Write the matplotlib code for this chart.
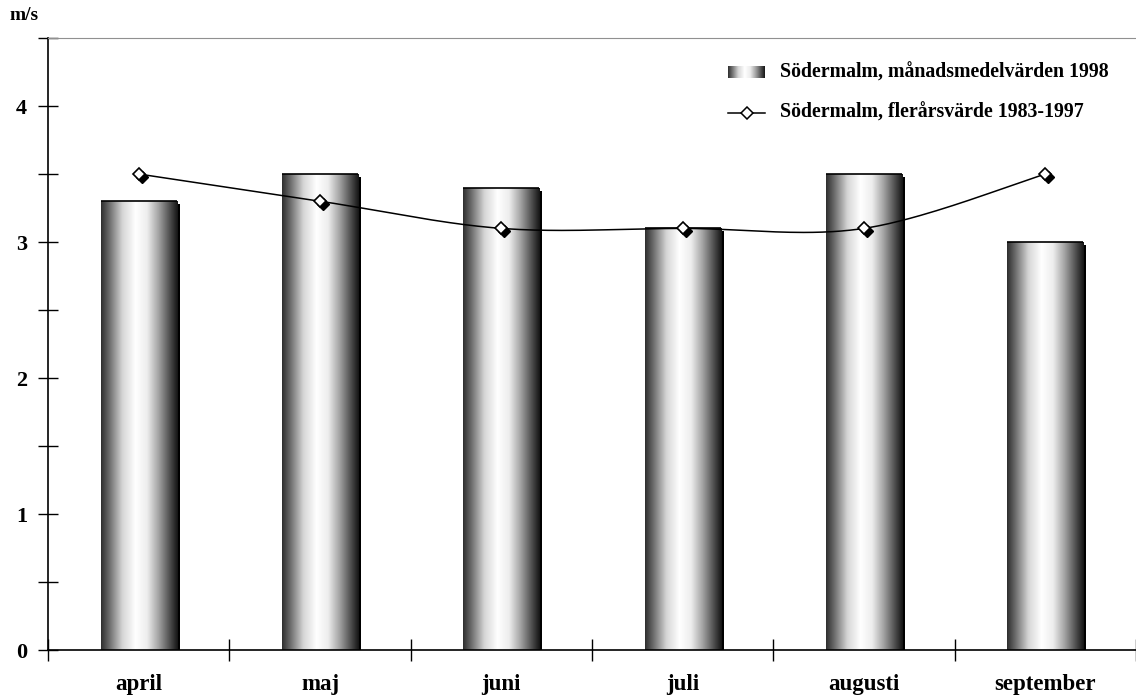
import numpy as np
import matplotlib
matplotlib.use("Agg")
import matplotlib.pyplot as plt
from matplotlib.colors import LinearSegmentedColormap
from matplotlib.transforms import ScaledTranslation
from matplotlib.ticker import MultipleLocator

# Monthly wind speed data (m/s)
months = ["april", "maj", "juni", "juli", "augusti", "september"]
monthly_1998 = [3.3, 3.5, 3.4, 3.1, 3.5, 3.0]
longterm_1983_1997 = [3.5, 3.3, 3.1, 3.1, 3.1, 3.5]
label_bars = "Södermalm, månadsmedelvärden 1998"
label_line = "Södermalm, flerårsvärde 1983-1997"
yticks = [0, 1, 2, 3, 4]

plt.rcParams["font.family"] = ["Liberation Serif", "DejaVu Serif"]
plt.rcParams["font.weight"] = "bold"

W, H, DPI = 1136, 696, 100
fig = plt.figure(figsize=(W / DPI, H / DPI), dpi=DPI)
left, right, bottom, top = 48, 1136, 650, 38
ax = fig.add_axes([left / W, (H - bottom) / H, (right - left) / W, (bottom - top) / H])

# metallic horizontal gradient used on the bars
shade = LinearSegmentedColormap.from_list(
    "metal",
    [(0.0, (0.18, 0.18, 0.18)), (0.12, (0.45, 0.45, 0.45)), (0.28, (0.84, 0.84, 0.84)),
     (0.45, (1.0, 1.0, 1.0)), (0.6, (0.93, 0.93, 0.93)), (0.75, (0.64, 0.64, 0.64)),
     (0.9, (0.3, 0.3, 0.3)), (1.0, (0.08, 0.08, 0.08))])
grad = np.linspace(0, 1, 256).reshape(1, -1)

x = np.arange(len(months))
bw = 0.42
off = ScaledTranslation(3 / DPI, -3 / DPI, fig.dpi_scale_trans)

shadow = ax.bar(x, monthly_1998, bw, color="black", zorder=1)
for p in shadow:
    p.set_transform(ax.transData + off)

bars = ax.bar(x, monthly_1998, bw, facecolor="none", edgecolor="none", zorder=3)
for p in bars:
    x0, w_ = p.get_x(), p.get_width()
    im = ax.imshow(grad, cmap=shade, vmin=0, vmax=1, aspect="auto",
                   extent=(x0, x0 + w_, 0, p.get_height()), zorder=2,
                   interpolation="bilinear")
    im.set_clip_path(p)
    ax.plot([x0, x0 + w_], [p.get_height()] * 2, color="black", lw=1.2, zorder=3,
            solid_capstyle="butt")


# smooth curve through the long-term values (Catmull-Rom)
def catmull_rom(xs, ys, n=40):
    px = np.concatenate([[xs[0]], xs, [xs[-1]]]).astype(float)
    py = np.concatenate([[ys[0]], ys, [ys[-1]]]).astype(float)
    ox, oy = [], []
    for i in range(1, len(px) - 2):
        t = np.linspace(0, 1, n)
        for arr, out in ((px, ox), (py, oy)):
            p0, p1, p2, p3 = arr[i - 1], arr[i], arr[i + 1], arr[i + 2]
            out.extend(0.5 * (2 * p1 + (-p0 + p2) * t + (2 * p0 - 5 * p1 + 4 * p2 - p3) * t ** 2
                              + (-p0 + 3 * p1 - 3 * p2 + p3) * t ** 3))
    return np.array(ox), np.array(oy)


cx, cy = catmull_rom(x, np.array(longterm_1983_1997))
ax.plot(cx, cy, color="black", lw=1.1, zorder=4)
mshadow, = ax.plot(x, longterm_1983_1997, ls="none", marker="D", ms=6.5,
                   mfc="black", mec="black", zorder=5)
mshadow.set_transform(ax.transData + off)
ax.plot(x, longterm_1983_1997, ls="none", marker="D", ms=6.5, mfc="white",
        mec="black", mew=1.2, zorder=6)

ax.set_xlim(-0.5, -0.5 + (right - left) / 182)
ax.set_ylim(0, 4.5)

ax.spines["right"].set_visible(False)
ax.spines["top"].set_color("#909090")
ax.spines["left"].set_linewidth(1.2)
ax.spines["bottom"].set_linewidth(1.2)

ax.set_yticks(yticks)
ax.yaxis.set_minor_locator(MultipleLocator(0.5))
ax.tick_params(axis="y", which="both", direction="inout", length=14, width=1.0,
               labelsize=16, pad=8)
ax.set_xticks(x)
ax.set_xticklabels(months)
ax.set_xticks(np.arange(len(months) + 1) - 0.5, minor=True)
ax.tick_params(axis="x", which="major", length=0, labelsize=16.5, pad=17)
ax.tick_params(axis="x", which="minor", direction="inout", length=16, width=1.0)

fig.text(10 / W, 1 - 16 / H, "m/s", fontsize=14, fontweight="bold", va="center", ha="left")

# legend
sw = ax.inset_axes([(728 - left) / 1088, (bottom - 78) / 612, 37 / 1088, 12 / 612])
sw.imshow(grad, cmap=shade, vmin=0, vmax=1, aspect="auto", interpolation="bilinear")
sw.set_axis_off()
ax.text((780 - left) / 1088, (bottom - 73) / 612, label_bars, transform=ax.transAxes,
        fontsize=14.3, fontweight="bold", va="center", ha="left")
ly = (bottom - 113) / 612
ax.plot([(728 - left) / 1088, (765 - left) / 1088], [ly, ly], transform=ax.transAxes,
        color="black", lw=1.1, clip_on=False)
ax.plot([(746.5 - left) / 1088], [ly], transform=ax.transAxes, marker="D", ms=6,
        mfc="white", mec="black", mew=1.1, clip_on=False)
ax.text((780 - left) / 1088, ly, label_line, transform=ax.transAxes,
        fontsize=14.3, fontweight="bold", va="center", ha="left")

fig.savefig("out.png", dpi=DPI)
